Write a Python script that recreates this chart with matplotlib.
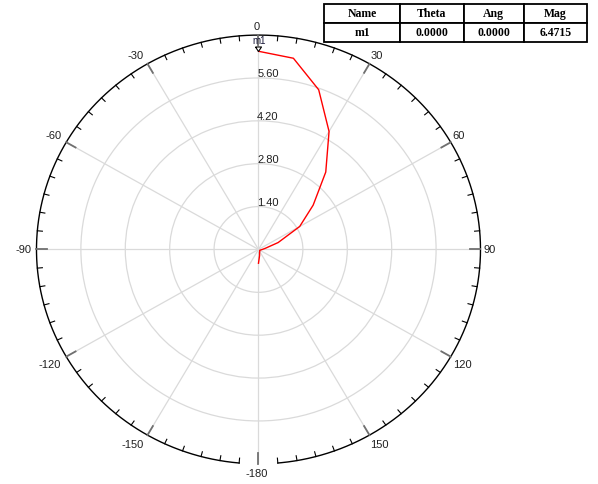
import numpy as np
import matplotlib.pyplot as plt

plt.rcParams['font.family'] = ['Liberation Sans', 'DejaVu Sans']

# trace: magnitude vs theta (deg)
theta_deg = [0, 10, 20, 30, 40, 50, 60, 70, 80, 90, 100, 110, 120, 130, 140, 150, 160, 170, 180]
mag = [6.4715, 6.34, 5.55, 4.45, 3.30, 2.25, 1.50, 0.66, 0.22, 0.12, 0.08, 0.06, 0.05,
       0.05, 0.06, 0.08, 0.10, 0.20, 0.45]

r_max = 7.0
ring_values = [1.4, 2.8, 4.2, 5.6]
ring_labels = ['1.40', '2.80', '4.20', '5.60']
angle_ticks = list(range(0, 360, 30))
angle_labels = ['0', '30', '60', '90', '120', '150', '-180', '-150', '-120', '-90', '-60', '-30']

marker_name = 'm1'
marker_theta = 0.0
marker_mag = 6.4715
table_cols = ['Name', 'Theta', 'Ang', 'Mag']
table_row = ['m1', '0.0000', '0.0000', '6.4715']
table_widths = [76, 63, 60, 63]

fig = plt.figure(figsize=(5.98, 4.85), dpi=100)
ax = fig.add_axes([0.061, 0.0416, 0.7425, 0.884], projection='polar')
ax.set_theta_zero_location('N')
ax.set_theta_direction(-1)
ax.set_rlim(0, r_max)
ax.set_aspect('auto')
ax.set_rticks(ring_values)
ax.set_yticklabels([])
ax.set_xticks(np.deg2rad(angle_ticks))
ax.set_xticklabels([])
ax.tick_params(length=0)
ax.grid(True, color='#dadada', lw=0.9)
ax.spines['polar'].set_visible(False)

# outer frame, open at the bottom
arc = np.deg2rad(np.linspace(-175, 175, 400))
ax.plot(arc, np.full_like(arc, r_max), color='black', lw=1.0, clip_on=False)

for d in range(0, 360, 5):
    t = np.deg2rad(d)
    if d % 30 == 0:
        ax.plot([t, t], [r_max - 0.34, r_max], color='#707070', lw=1.3, clip_on=False)
    else:
        ax.plot([t, t], [r_max - 0.16, r_max], color='black', lw=0.8, clip_on=False)

# angle labels
for d, lbl in zip(angle_ticks, angle_labels):
    t = np.deg2rad(d)
    s, c = np.sin(t), np.cos(t)
    ha = 'left' if s > 0.1 else ('right' if s < -0.1 else 'center')
    va = 'bottom' if c > 0.1 else ('top' if c < -0.1 else 'center')
    off = 4 * 0.72
    ax.annotate(lbl, xy=(t, r_max), xytext=(off * s - 1.0, off * c),
                textcoords='offset points', ha=ha, va=va,
                fontsize=8, color='#202020', annotation_clip=False)

# radial labels
for rv, lbl in zip(ring_values, ring_labels):
    ax.annotate(lbl, xy=(0, rv), xytext=(-1, 0), textcoords='offset points',
                ha='left', va='bottom', fontsize=8, color='#202020')

ax.plot(np.deg2rad(theta_deg), mag, color='#ff0000', lw=1.0)

# marker m1
tri = [(-0.67, 1.0), (0.67, 1.0), (0.0, 0.0), (-0.67, 1.0)]
ax.plot(np.deg2rad(marker_theta), marker_mag, marker=tri, ms=6.5, mfc='white',
        mec='black', mew=0.8, clip_on=False)
ax.annotate(marker_name, xy=(np.deg2rad(marker_theta), marker_mag), xytext=(0.5, 4.5),
            textcoords='offset points', ha='center', va='bottom', fontsize=7,
            color='#1a1a3a', annotation_clip=False)

# marker table
tab_ax = fig.add_axes([324 / 598, 1 - 42.5 / 485, 263 / 598, 38 / 485])
tab_ax.axis('off')
tw = np.array(table_widths, dtype=float)
tbl = tab_ax.table(cellText=[table_row], colLabels=table_cols, cellLoc='center',
                   colWidths=list(tw / tw.sum()), bbox=[0, 0, 1, 1])
tbl.auto_set_font_size(False)
for cell in tbl.get_celld().values():
    cell.set_linewidth(1.3)
    cell.set_edgecolor('black')
    cell.get_text().set_fontfamily('Liberation Serif')
    cell.get_text().set_fontweight('bold')
    cell.get_text().set_fontsize(8.5)

fig.savefig('out.png', dpi=100)
